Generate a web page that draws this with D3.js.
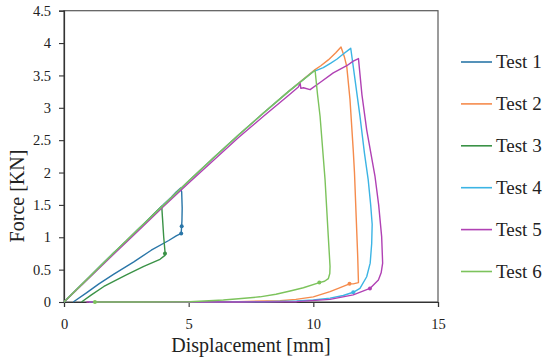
<!DOCTYPE html>
<html>
<head>
<meta charset="utf-8">
<script src="https://cdn.jsdelivr.net/npm/d3@7"></script>
<style>
  html, body { margin: 0; padding: 0; background: #fff; }
  svg { display: block; font-family: "Liberation Serif", "Times New Roman", serif; }
</style>
</head>
<body>
<svg id="chart" width="550" height="361"></svg>
<script>
// ---------- data (x = displacement [mm], y = force [kN]) ----------
const seriesNames = ["Test 1", "Test 2", "Test 3", "Test 4", "Test 5", "Test 6"];
const seriesColors = ["#2a76a8", "#f58b4c", "#3a9246", "#3cb4e4", "#b041b4", "#7cc35c"];

const test1 = [[0,0],[0.5,0.19],[1,0.38],[1.5,0.57],[2,0.76],[2.5,0.94],[3,1.13],[3.5,1.31],[4,1.51],[4.3,1.62],[4.5,1.70],[4.68,1.76],
  [4.72,1.70],[4.74,1.45],[4.73,1.25],[4.72,1.19],[4.70,1.06],
  [4.5,1.02],[4.2,0.95],[3.5,0.80],[2.8,0.62],[2.0,0.43],[1.4,0.28],[0.9,0.14],[0.37,0]];
const test2 = [[0,0],[1,0.38],[2,0.76],[3,1.13],[4,1.50],[5,1.87],[6,2.23],[7,2.58],[8,2.92],[9,3.25],[10.07,3.59],
  [10.3,3.65],[10.6,3.74],[10.9,3.85],[11.11,3.94],
  [11.25,3.78],[11.34,3.64],[11.47,3.13],[11.6,2.35],[11.65,2.0],[11.72,1.3],[11.78,0.7],[11.81,0.30],
  [11.6,0.28],[11.45,0.28],
  [11.0,0.21],[10.67,0.16],[10.0,0.08],[9.3,0.04],[8.66,0.02],[7,0.005],[5,0],[1.3,0]];
const test3 = [[0,0],[0.5,0.19],[1,0.38],[1.5,0.57],[2,0.76],[2.5,0.94],[3,1.13],[3.5,1.32],[3.92,1.48],
  [3.95,1.30],[4.0,1.0],[4.05,0.78],[4.05,0.72],
  [3.85,0.66],[3.2,0.55],[2.5,0.42],[1.6,0.24],[1.1,0.11],[0.7,0]];
const test4 = [[0,0],[1,0.38],[2,0.76],[3,1.13],[4,1.50],[5,1.87],[6,2.23],[7,2.58],[8,2.92],[9,3.25],[10.0,3.56],
  [10.4,3.62],[10.7,3.69],[10.94,3.75],[11.2,3.83],[11.47,3.91],[11.5,3.92],
  [11.6,3.64],[11.87,2.87],[12.05,2.3],[12.2,1.89],[12.3,1.5],[12.36,1.2],[12.34,0.9],[12.28,0.6],[12.14,0.39],[11.87,0.21],[11.6,0.15],
  [11.2,0.10],[10.67,0.06],[10.0,0.03],[9.33,0.015],[8,0.005],[6,0],[1.0,0]];
const test5 = [[0,0],[1,0.37],[2,0.74],[3,1.11],[4,1.48],[5,1.84],[6,2.19],[7,2.54],[8,2.87],[9,3.19],[9.4,3.32],[9.47,3.38],
  [9.5,3.30],[9.6,3.31],[9.87,3.28],[10.27,3.39],[10.8,3.54],[11.34,3.65],[11.6,3.72],[11.81,3.76],
  [11.95,3.2],[12.14,2.66],[12.47,1.95],[12.62,1.5],[12.74,1.01],[12.78,0.6],[12.72,0.45],[12.61,0.34],[12.27,0.21],
  [11.6,0.11],[10.67,0.04],[9.33,0.005],[7,0],[0.9,0]];
const test6 = [[0,0],[1,0.38],[2,0.76],[3,1.13],[4,1.50],[5,1.87],[6,2.23],[7,2.58],[8,2.92],[9,3.25],[10.07,3.58],
  [10.17,3.2],[10.27,2.87],[10.47,1.89],[10.6,1.01],[10.67,0.55],[10.66,0.44],[10.6,0.36],[10.45,0.32],[10.24,0.30],
  [9.6,0.22],[9.07,0.17],[8.5,0.12],[7.86,0.08],[7,0.05],[6.39,0.03],[5.05,0.005],[3,0],[1.2,0]];
const seriesData = [test1, test2, test3, test4, test5, test6];

// highlighted sample markers per series
const markers1 = [[4.72,1.17],[4.70,1.06]];
const markers2 = [[11.45,0.28]];
const markers3 = [[4.05,0.75]];
const markers4 = [[11.6,0.15]];
const markers5 = [[12.27,0.21]];
const markers6 = [[10.24,0.30],[1.24,0]];
const seriesMarkers = [markers1, markers2, markers3, markers4, markers5, markers6];

const xTicks = [0, 5, 10, 15];
const yTicks = [0, 0.5, 1, 1.5, 2, 2.5, 3, 3.5, 4, 4.5];
const xTitle = "Displacement [mm]";
const yTitle = "Force [KN]";

// ---------- drawing ----------
const svg = d3.select("#chart");
const x = d3.scaleLinear().domain([0, 15]).range([64, 438]);
const y = d3.scaleLinear().domain([0, 4.5]).range([302, 10.7]);

// frame
svg.append("rect")
  .attr("x", x(0)).attr("y", y(4.5))
  .attr("width", x(15) - x(0)).attr("height", y(0) - y(4.5))
  .attr("fill", "none").attr("stroke", "#595959").attr("stroke-width", 1.2);

// axes
const xAxis = svg.append("g").attr("transform", `translate(0,${y(0)})`)
  .call(d3.axisBottom(x).tickValues(xTicks).tickSize(5).tickPadding(12).tickFormat(d3.format("d")));
const yAxis = svg.append("g").attr("transform", `translate(${x(0)},0)`)
  .call(d3.axisLeft(y).tickValues(yTicks).tickSize(5).tickPadding(8).tickFormat(d => String(d)));
[xAxis, yAxis].forEach(g => {
  g.attr("font-family", '"Liberation Serif", serif').attr("font-size", 14.5);
  g.select(".domain").attr("stroke", "#333").attr("stroke-width", 1.2);
  g.selectAll(".tick line").attr("stroke", "#333").attr("stroke-width", 1.1);
  g.selectAll(".tick text").attr("fill", "#222");
});

// series lines
const line = d3.line().x(d => x(d[0])).y(d => y(d[1]));
seriesData.forEach((data, i) => {
  svg.append("path").datum(data)
    .attr("d", line)
    .attr("fill", "none")
    .attr("stroke", seriesColors[i])
    .attr("stroke-width", 1.4)
    .attr("stroke-linejoin", "round");
  svg.selectAll(null).data(seriesMarkers[i]).enter().append("circle")
    .attr("cx", d => x(d[0])).attr("cy", d => y(d[1])).attr("r", 2)
    .attr("fill", seriesColors[i]);
});

// axis titles
svg.append("text").attr("x", (x(0) + x(15)) / 2).attr("y", 352)
  .attr("text-anchor", "middle").attr("fill", "#222")
  .style("font-size", "20px").text(xTitle);
svg.append("text").attr("transform", "translate(24,196) rotate(-90)")
  .attr("text-anchor", "middle").attr("fill", "#222")
  .style("font-size", "20px").text(yTitle);

// legend
const legend = svg.append("g");
seriesNames.forEach((name, i) => {
  const ly = 62 + i * 41.9;
  legend.append("line").attr("x1", 461).attr("x2", 492).attr("y1", ly).attr("y2", ly)
    .attr("stroke", seriesColors[i]).attr("stroke-width", 1.6);
  legend.append("text").attr("x", 496).attr("y", ly).attr("dy", "0.34em")
    .attr("fill", "#222").style("font-size", "19px").text(name);
});
</script>
</body>
</html>
